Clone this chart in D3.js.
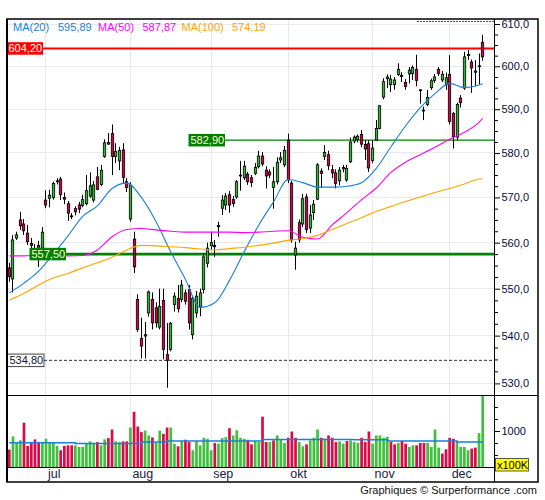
<!DOCTYPE html>
<html><head><meta charset="utf-8">
<script src="https://cdn.jsdelivr.net/npm/d3@7"></script>
<style>body{margin:0;background:#fff}svg{display:block}text{font-family:"Liberation Sans",Arial,sans-serif}</style>
</head><body><svg id="c" width="545" height="500"></svg>
<script>
// ---------- data ----------
const opens=[554.5,552.1,561.0,565.0,564.1,562.1,559.8,558.2,559.4,558.8,
569.4,569.8,570.0,573.5,574.1,570.0,568.6,565.9,567.5,568.3,
568.2,568.6,570.3,569.4,574.6,572.9,579.2,582.4,584.4,579.2,
578.2,580.7,573.5,565.2,560.8,547.7,539.4,540.2,544.8,547.7,
545.9,541.8,547.5,536.0,537.1,546.6,547.9,547.7,549.1,549.8,
540.2,544.8,546.1,549.8,555.5,559.3,559.4,563.5,567.6,568.3,
570.6,569.5,570.1,574.8,574.4,575.2,574.4,575.4,576.9,579.3,
576.1,575.7,572.2,573.5,578.4,577.3,582.9,573.2,557.3,564.4,
564.1,570.1,563.2,566.6,569.6,575.9,579.2,579.6,576.2,575.5,
573.7,576.4,573.9,578.0,582.7,583.1,584.2,581.9,582.1,578.3,
582.9,585.6,592.8,597.1,595.7,595.7,598.1,597.9,596.2,598.2,
598.3,599.3,594.5,589.8,591.1,595.0,596.7,599.3,596.8,595.7,
598.1,589.0,583.6,592.6,594.9,602.5,601.0,598.9,599.9,605.6];
const highs=[555.6,561.7,562.4,566.8,565.2,563.9,561.0,559.7,560.4,563.4,
571.6,571.7,573.5,574.3,574.6,571.1,569.2,566.5,568.0,569.0,
570.6,575.0,575.6,573.7,576.8,577.3,583.1,584.5,586.5,582.2,
581.4,582.2,574.3,573.4,562.4,548.8,543.8,542.9,549.6,549.2,
547.1,550.0,550.0,542.7,542.9,549.2,550.8,551.9,549.8,550.8,
548.3,549.5,550.0,557.6,560.0,562.4,560.6,564.6,570.5,571.0,
571.4,570.3,573.9,578.2,578.2,575.7,575.0,577.7,580.5,580.2,
577.0,576.3,576.8,579.0,580.2,581.6,584.4,573.7,560.2,565.1,
570.8,570.8,568.3,569.4,577.7,576.5,581.8,580.5,577.3,576.3,
576.8,577.3,577.3,583.5,584.0,584.2,585.2,582.9,582.9,582.9,
587.5,591.0,597.2,598.1,598.0,597.5,600.7,598.6,597.0,599.8,
600.2,602.7,594.6,590.6,594.5,597.1,598.2,599.8,598.9,598.5,
602.6,589.4,591.5,593.3,603.4,603.8,601.6,601.5,603.0,607.4];
const lows=[551.5,549.2,560.6,562.8,561.7,559.5,557.7,556.2,554.7,558.2,
567.6,567.8,569.5,572.9,569.4,568.5,564.8,565.2,566.0,566.5,
567.8,568.2,569.9,568.9,571.6,572.5,578.9,581.9,575.0,577.7,
576.1,573.1,571.2,564.6,553.4,540.8,535.2,535.2,544.0,541.3,
541.7,541.3,535.0,529.1,536.7,545.1,544.9,547.1,546.6,541.3,
539.2,543.8,544.1,549.0,554.6,558.4,556.9,561.3,566.1,567.2,
566.6,567.9,569.7,571.5,573.9,572.8,572.3,575.0,576.5,577.0,
572.0,574.3,567.5,572.9,577.7,576.8,573.2,560.0,554.1,560.0,
563.4,562.1,562.1,565.0,569.4,572.1,578.4,576.1,574.3,572.0,
572.7,575.6,573.5,577.7,582.2,582.4,581.3,578.4,575.7,577.7,
582.7,585.4,592.3,594.9,594.0,594.5,597.7,596.3,594.5,596.0,
596.8,595.3,591.3,587.5,590.7,594.5,596.1,597.7,596.3,594.5,
586.5,581.0,582.9,590.4,594.5,601.5,593.8,595.3,595.7,601.3];
const closes=[552.6,560.6,561.7,563.7,562.6,560.2,559.4,558.6,558.4,562.3,
568.3,570.5,573.1,573.7,570.6,569.6,566.5,565.7,566.8,567.4,
569.5,571.5,572.6,572.8,571.8,576.1,582.3,582.0,579.2,580.3,
580.6,574.5,572.2,572.7,554.7,541.3,537.8,539.9,549.3,542.7,
542.7,546.2,537.1,534.8,542.6,548.4,545.7,550.8,547.3,542.7,
547.9,548.4,549.1,556.9,558.8,560.0,559.1,563.8,569.4,570.3,
568.3,568.6,573.5,575.0,577.0,573.5,573.3,576.7,579.3,577.5,
574.8,575.0,573.5,577.9,578.9,580.6,573.9,560.6,558.8,560.6,
569.7,562.9,566.1,568.5,577.3,575.4,580.1,577.1,575.5,573.1,
576.1,576.7,576.5,582.5,583.6,583.8,582.0,580.9,576.6,581.1,
585.6,590.8,596.4,597.5,597.0,596.8,599.3,597.6,595.3,599.1,
599.7,596.7,594.3,589.6,592.7,596.6,597.5,598.3,598.1,597.3,
587.2,583.7,591.1,591.5,602.2,602.8,599.6,598.6,600.1,602.2];
// volume in units of 100K
const volumes=[613,887,757,805,1174,688,757,825,757,757,
839,757,757,688,599,688,702,702,702,668,
668,736,784,736,770,702,825,852,1031,784,
763,784,784,1072,1400,1092,976,1010,907,866,
757,1010,941,1072,1072,736,681,791,818,770,
599,791,702,859,839,599,750,736,852,873,
1058,907,1017,859,839,818,722,791,770,1298,
770,770,805,907,818,750,859,990,859,770,
681,722,805,859,1031,859,839,907,859,770,
784,736,791,805,770,750,859,770,990,736,
907,907,859,880,770,722,750,791,736,668,
702,702,750,750,750,668,1031,654,531,620,
859,839,770,668,668,599,633,654,955,2400];
const volAvgIdx=[0,18,36,43,69,94,103,122,129];
const volAvg=[757,737,770,790,825,819,790,770,770];

const monthLabels=["jul","aug","sep","okt","nov","dec"];
const monthStarts=[10,33,55,76,99,120];

const maIdx=[0,4,8,12,16,20,24,28,32,36,40,44,48,52,56,60,64,68,72,76,80,84,88,92,96,100,104,108,112,116,120,124,128,129];
const ma20=[549.1,551.2,553.8,557.5,561.5,565.8,568.1,572.0,573.2,570.0,564.6,558.0,552.0,546.0,547.0,551.8,558.0,563.9,569.0,574.0,573.3,572.3,572.3,572.5,573.3,576.5,581.4,586.2,590.4,593.6,596.0,595.0,595.6,595.89];
const ma50=[557.1,557.1,557.3,557.3,557.1,557.2,558.4,561.3,562.9,563.1,562.8,562.5,562.3,562.3,562.3,562.3,562.2,562.3,562.5,562.6,561.2,560.8,563.9,566.6,569.5,572.1,575.6,577.9,579.6,581.3,583.1,584.7,587.0,587.87];
const ma100=[547.5,549.0,550.8,552.3,553.3,554.5,555.6,556.8,558.4,559.4,559.3,559.1,558.9,558.6,558.4,558.7,559.0,559.4,559.9,560.5,560.9,561.6,562.9,564.2,565.5,566.9,568.0,569.1,570.1,571.1,572.0,573.0,574.1,574.19];
const maNames=["MA(20)","MA(50)","MA(100)"];
const maLastLabels=["595,89","587,87","574,19"];

const priceTicks=[530,540,550,560,570,580,590,600,610];
const priceMinorTicks=[532.5,535,537.5,542.5,545,547.5,552.5,555,557.5,562.5,565,567.5,572.5,575,577.5,582.5,585,587.5,592.5,595,597.5,602.5,605,607.5];
const volTicks=[250,500,750,1000,1250,1500,1750];
const volLabelTicks=[1000];

const levelValues=[604.2,582.9,557.5,534.8];
const levelLabels=["604,20","582,90","557,50","534,80"];
const highLevel=610.6;

// ---------- layout ----------
const N=closes.length;
const L=7,R=494,T=19,PB=395,VB=467,OR=538,OB=482;
const svg=d3.select("#c");
const x=d3.scaleLinear().domain([0,N-1]).range([9.3,482.7]);
const y=d3.scaleLog().domain([527.6,611.2]).range([PB,T]);
const yv=d3.scaleLinear().domain([250,1750]).range([VB,PB]);
const px=v=>Math.round(v-0.5)+0.5;

const defs=svg.append("defs");
defs.append("clipPath").attr("id","cp").append("rect").attr("x",L).attr("y",T).attr("width",R-L).attr("height",PB-T);
defs.append("clipPath").attr("id","cv").append("rect").attr("x",L).attr("y",PB).attr("width",R-L).attr("height",VB-PB);

const GRID="#e9e9e9";
// grid
const g=svg.append("g");
g.selectAll(".hg").data(priceTicks).join("line")
 .attr("x1",L).attr("x2",R).attr("y1",d=>px(y(d))).attr("y2",d=>px(y(d)))
 .attr("stroke",GRID).attr("stroke-width",1);
g.selectAll(".vg").data(monthStarts).join("line")
 .attr("x1",d=>px(x(d))).attr("x2",d=>px(x(d))).attr("y1",T).attr("y2",VB)
 .attr("stroke",GRID).attr("stroke-width",1);

// price panel
const pp=svg.append("g").attr("clip-path","url(#cp)");

// high dashed line (partial)
pp.append("line").attr("x1",417).attr("x2",R).attr("y1",px(y(highLevel))).attr("y2",px(y(highLevel)))
 .attr("stroke","#555").attr("stroke-dasharray","2,1");

// level lines & label boxes
const levelStyle=[
 {bx:6.5, fill:"#ff0000", text:"#ffffff", line:"#ff0000", w:2, dash:null, border:null},
 {bx:188.5, fill:"#008000", text:"#ffffd8", line:"#008000", w:1.3, dash:null, border:null},
 {bx:29.5, fill:"#008000", text:"#ffffd8", line:"#008000", w:2.6, dash:null, border:null},
 {bx:7.5, fill:"#ffffff", text:"#101040", line:"#333333", w:1, dash:"3,2", border:"#444"}
];
const boxW=36.5, boxH=12.5;
levelValues.forEach((v,k)=>{
  const s=levelStyle[k]; const yy=y(v);
  pp.append("line").attr("x1",s.bx+boxW).attr("x2",R).attr("y1",yy).attr("y2",yy)
    .attr("stroke",s.line).attr("stroke-width",s.w).attr("stroke-dasharray",s.dash);
});

// candles
const UP="#2fba2f", DN="#d4004a";
const cg=pp.append("g");
closes.forEach((c,i)=>{
  const cx=px(x(i));
  const o=opens[i];
  cg.append("line").attr("x1",cx).attr("x2",cx).attr("y1",y(highs[i])).attr("y2",y(lows[i]))
    .attr("stroke","#000").attr("stroke-width",1);
  const top=y(Math.max(o,c)), bot=y(Math.min(o,c));
  const h=Math.max(bot-top,0.8);
  cg.append("rect").attr("x",cx-1.2).attr("width",2.4).attr("y",top).attr("height",h)
    .attr("fill",c>=o?UP:DN).attr("stroke","#000").attr("stroke-width",0.8);
});

// moving averages
const maColors=["#1a7fd9","#ff00ff","#ffa500"];
[ma20,ma50,ma100].forEach((arr,k)=>{
  const line=d3.line().x((d,j)=>x(maIdx[j])).y(d=>y(d)).curve(d3.curveMonotoneX);
  pp.append("path").attr("d",line(arr)).attr("fill","none").attr("stroke",maColors[k]).attr("stroke-width",1.1);
});

// level label boxes (on top)
levelValues.forEach((v,k)=>{
  const s=levelStyle[k]; const yy=y(v);
  svg.append("rect").attr("x",s.bx).attr("y",yy-boxH/2).attr("width",boxW).attr("height",boxH)
    .attr("fill",s.fill).attr("stroke",s.border||"none").attr("stroke-width",1);
  svg.append("text").attr("x",s.bx+2).attr("y",yy+4).attr("font-size",11).attr("fill",s.text)
    .text(levelLabels[k]);
});

// volume panel
const vp=svg.append("g").attr("clip-path","url(#cv)");
const VUP="#3ec23e", VDN="#dc0a4a";
volumes.forEach((v,i)=>{
  const up = i===0 ? closes[0]>=opens[0] : closes[i]>=closes[i-1];
  vp.append("rect").attr("x",x(i)-1.35).attr("width",2.7).attr("y",yv(v)).attr("height",VB-yv(v))
    .attr("fill",up?VUP:VDN);
});
const vline=d3.line().x(d=>x(d[0])).y(d=>yv(d[1])).curve(d3.curveStepAfter);
vp.append("path").attr("d",vline(volAvgIdx.map((d,j)=>[d,volAvg[j]])))
  .attr("fill","none").attr("stroke","#1a7fd9").attr("stroke-width",1.5);

// legend
const legX=[13,58,98,142.5,181.5,232];
maNames.forEach((n,k)=>{
  svg.append("text").attr("x",legX[2*k]).attr("y",31).attr("font-size",11).attr("fill",maColors[k]).text(n);
  svg.append("text").attr("x",legX[2*k+1]).attr("y",31).attr("font-size",11).attr("fill",maColors[k]).text(maLastLabels[k]);
});

// month labels
svg.selectAll(".ml").data(monthStarts).join("text")
 .attr("x",d=>x(d)+2).attr("y",477.5).attr("font-size",12.5).attr("fill","#1a1a40")
 .text((d,k)=>monthLabels[k]);

// price axis
const fmt=d=>d.toFixed(1).replace(".",",");
const ax=svg.append("g").attr("transform",`translate(${R},0)`)
 .call(d3.axisRight(y).tickValues(priceTicks).tickSize(6).tickPadding(1.5).tickFormat(fmt));
const axm=svg.append("g").attr("transform",`translate(${R},0)`)
 .call(d3.axisRight(y).tickValues(priceMinorTicks).tickSize(4).tickFormat(""));
const vax=svg.append("g").attr("transform",`translate(${R},0)`)
 .call(d3.axisRight(yv).tickValues(volTicks).tickSize(4).tickFormat(""));
const vaxl=svg.append("g").attr("transform",`translate(${R},0)`)
 .call(d3.axisRight(yv).tickValues(volLabelTicks).tickSize(6).tickPadding(1.5).tickFormat(d=>String(d)));
[ax,axm,vax,vaxl].forEach(a=>{
  a.select(".domain").remove();
  a.selectAll("line").attr("stroke","#000");
  a.selectAll("text").attr("font-family","Liberation Sans, Arial, sans-serif").attr("font-size",11).attr("fill","#0a0a3c");
});

// x100K box
svg.append("rect").attr("x",495.5).attr("y",458.5).attr("width",33).attr("height",12.5)
 .attr("fill","#ffff00").attr("stroke","#333").attr("stroke-width",0.8);
svg.append("text").attr("x",497).attr("y",468.5).attr("font-size",11).attr("fill","#000").text("x100K");

// frame
const fr=svg.append("g").attr("stroke","#000").attr("fill","none");
fr.append("rect").attr("x",L).attr("y",T).attr("width",OR-L).attr("height",OB-T).attr("stroke-width",1.5);
fr.append("line").attr("x1",L).attr("x2",L).attr("y1",T).attr("y2",OB).attr("stroke-width",2);
fr.append("line").attr("x1",R+0.5).attr("x2",R+0.5).attr("y1",T).attr("y2",OB).attr("stroke-width",1);
fr.append("line").attr("x1",L).attr("x2",OR).attr("y1",PB+0.5).attr("y2",PB+0.5).attr("stroke-width",1);
fr.append("line").attr("x1",L).attr("x2",R).attr("y1",VB+0.5).attr("y2",VB+0.5).attr("stroke-width",1);

// footer
svg.append("text").attr("x",537).attr("y",494).attr("text-anchor","end").attr("font-size",11).attr("fill","#111")
 .text("Graphiques © Surperformance .com");
</script></body></html>
